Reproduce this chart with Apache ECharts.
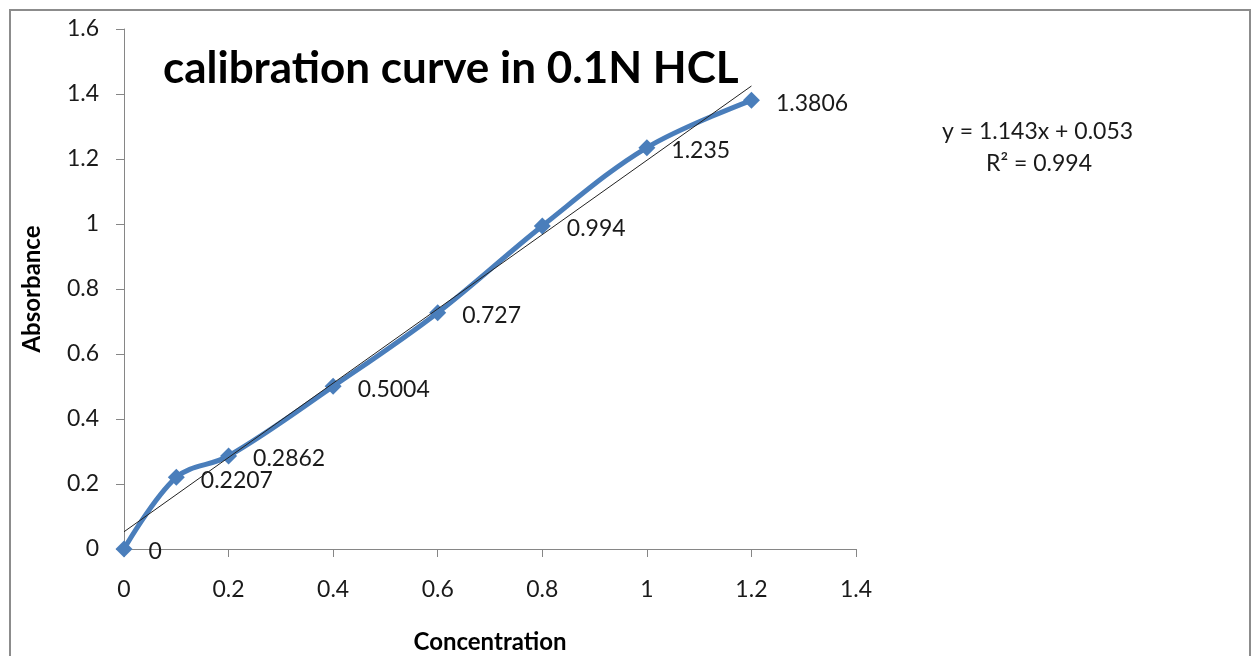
<!DOCTYPE html>
<html>
<head>
<meta charset="utf-8">
<script src="https://cdn.jsdelivr.net/npm/echarts@6/dist/echarts.min.js"></script>
<style>
  html, body { margin: 0; padding: 0; background: #fff; }
  #chart { width: 1253px; height: 656px; }
</style>
</head>
<body>
<div id="chart"></div>
<script>
// Concentration (x) and measured absorbance (y)
const concentration = [0, 0.1, 0.2, 0.4, 0.6, 0.8, 1.0, 1.2];
const absorbance = [0, 0.2207, 0.2862, 0.5004, 0.727, 0.994, 1.235, 1.3806];

// Linear trendline coefficients
const slope = 1.143;
const intercept = 0.053;
const rSquared = 0.994;

const titleText = 'calibration curve in 0.1N HCL';
const xAxisName = 'Concentration';
const yAxisName = 'Absorbance';

const FONT = 'Lato, "Open Sans", sans-serif';

const points = concentration.map((c, i) => [c, absorbance[i]]);
const xStart = concentration[0];
const xEnd = concentration[concentration.length - 1];
const trend = [
  [xStart, slope * xStart + intercept],
  [xEnd, slope * xEnd + intercept]
];

const chart = echarts.init(document.getElementById('chart'), null, { renderer: 'canvas' });

const axisCommon = {
  axisLine: { show: true, onZero: false, lineStyle: { color: '#868686', width: 1 } },
  axisTick: { show: true, inside: false, length: 8, lineStyle: { color: '#868686' } },
  splitLine: { show: false },
  axisLabel: { color: '#1a1a1a', fontSize: 23, fontFamily: FONT }
};

chart.setOption({
  backgroundColor: '#ffffff',
  animation: false,
  grid: {
    left: 124, right: 397, top: 29, bottom: 107,
    containLabel: false,
    outerBoundsMode: 'none'
  },
  title: {
    text: titleText,
    left: 158,
    top: 42,
    textStyle: { fontFamily: FONT, fontSize: 44, fontWeight: 'bold', color: '#000' }
  },
  xAxis: Object.assign({}, axisCommon, {
    type: 'value',
    min: 0, max: 1.4, interval: 0.2,
    name: xAxisName,
    nameLocation: 'middle',
    nameGap: 81,
    nameTextStyle: { fontFamily: FONT, fontSize: 24, fontWeight: 'bold', color: '#000' },
    axisLabel: Object.assign({}, axisCommon.axisLabel, { margin: 29 })
  }),
  yAxis: Object.assign({}, axisCommon, {
    type: 'value',
    min: 0, max: 1.6, interval: 0.2,
    name: yAxisName,
    nameLocation: 'middle',
    nameRotate: 90,
    nameGap: 80,
    nameTextStyle: { fontFamily: FONT, fontSize: 24, fontWeight: 'bold', color: '#000' },
    axisLabel: Object.assign({}, axisCommon.axisLabel, { margin: 25 })
  }),
  series: [
    {
      type: 'line',
      data: trend,
      symbol: 'none',
      lineStyle: { color: '#222', width: 1 },
      silent: true,
      z: 3
    },
    {
      type: 'line',
      data: points,
      smooth: 0.35,
      symbol: 'diamond',
      symbolSize: 17,
      itemStyle: { color: '#4A7EBB' },
      lineStyle: { color: '#4A7EBB', width: 5 },
      label: {
        show: true,
        position: 'right',
        distance: 16,
        offset: [0, 3],
        fontFamily: FONT,
        fontSize: 23,
        color: '#1a1a1a',
        formatter: p => String(p.value[1])
      },
      z: 2
    }
  ],
  graphic: [
    {
      type: 'rect',
      shape: { x: 10, y: 10, width: 1240, height: 700 },
      style: { fill: 'none', stroke: '#8c8c8c', lineWidth: 2 },
      silent: true
    },
    {
      type: 'text',
      left: 942, top: 120,
      style: {
        text: 'y = ' + slope + 'x + ' + intercept,
        font: '23px ' + FONT,
        fill: '#1a1a1a'
      }
    },
    {
      type: 'text',
      left: 986, top: 152,
      style: {
        text: 'R² = ' + rSquared,
        font: '23px ' + FONT,
        fill: '#1a1a1a'
      }
    }
  ]
});
</script>
</body>
</html>
